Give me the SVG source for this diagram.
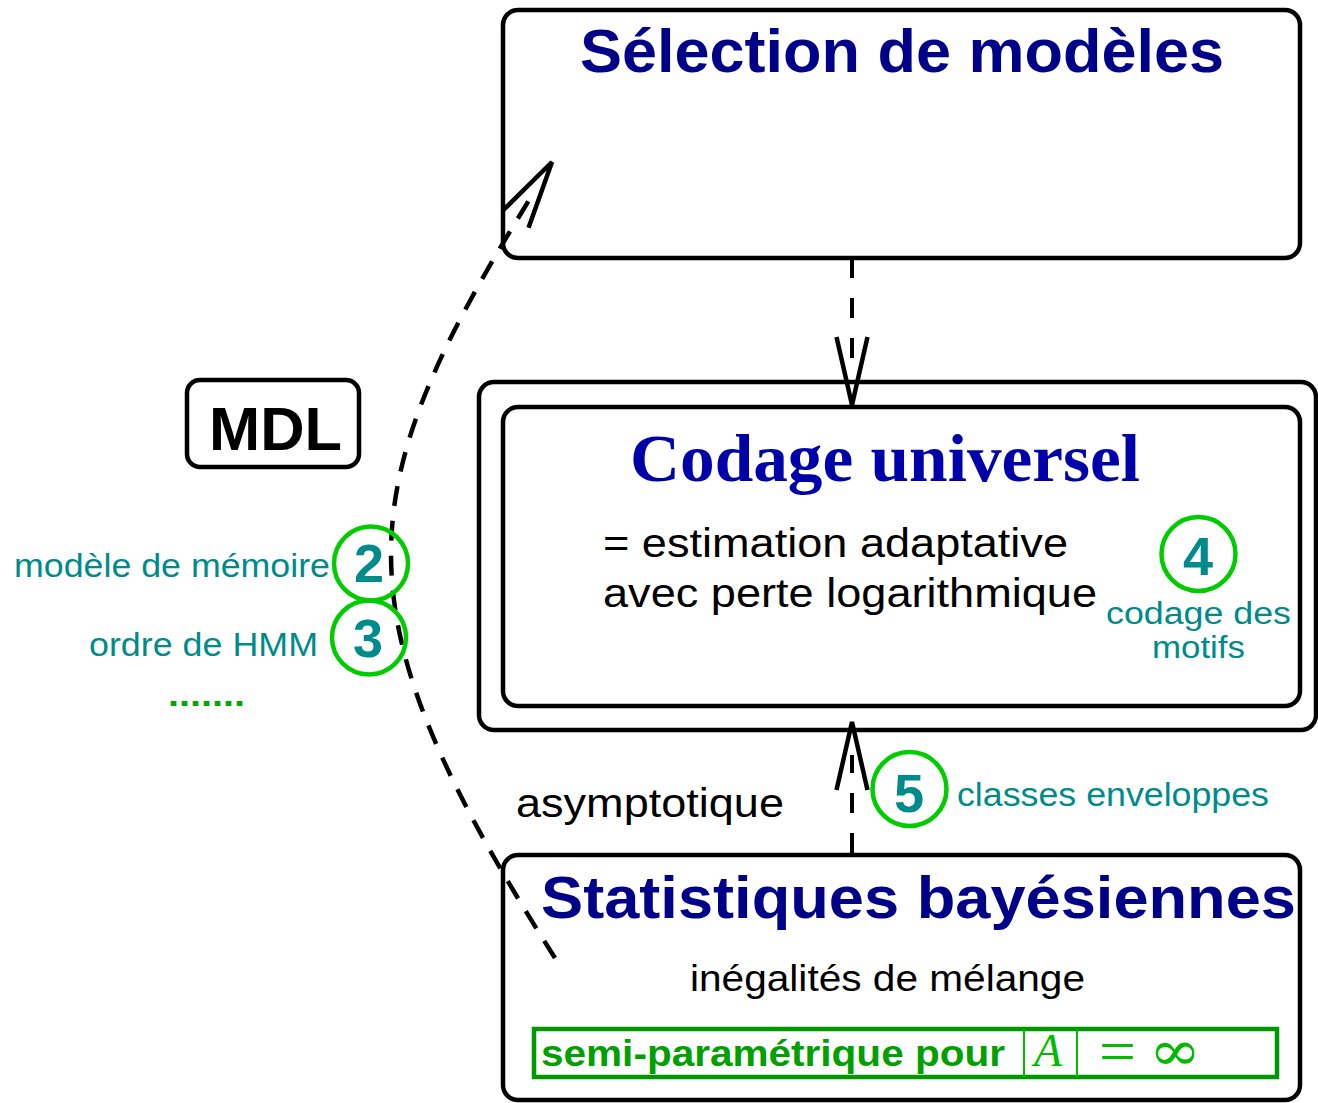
<svg xmlns="http://www.w3.org/2000/svg" xmlns:xlink="http://www.w3.org/1999/xlink" width="1318" height="1103" viewBox="0 0 1318 1103">
<style>
.box{fill:none;stroke:#000;stroke-width:4.5}
.conn{fill:none;stroke:#000;stroke-width:4;stroke-dasharray:20 20}
.head{fill:none;stroke:#000;stroke-width:4.5;stroke-linejoin:miter}
.ring{fill:none;stroke:#00cc00;stroke-width:4.5}
.num{font-family:"Liberation Sans",Arial,sans-serif;font-weight:bold;font-size:54px;fill:#008b8b;text-anchor:middle}
.lab{font-family:"Liberation Sans",Arial,sans-serif;font-size:34px;fill:#008b8b}
.txt{font-family:"Liberation Sans",Arial,sans-serif;font-size:40px;fill:#000}
.title{font-family:"Liberation Sans",Arial,sans-serif;font-weight:bold;font-size:62px;fill:#000088}
.math{font-family:"Liberation Serif","Times New Roman",serif;fill:#00bb00}
</style>
<defs>
<path id="vhead" class="head" d="M-15.5,-68 L0,0 L15.5,-68"/>
</defs>
<rect width="1318" height="1103" fill="#fff"/>

<g id="selection">
<rect class="box" x="503" y="10" width="797" height="248" rx="15"/>
<text class="title" x="580" y="72" textLength="644" lengthAdjust="spacingAndGlyphs">Sélection de modèles</text>
</g>

<g id="codage">
<rect class="box" x="479" y="382" width="837" height="348" rx="15"/>
<rect class="box" x="503" y="407" width="797" height="299" rx="15"/>
<text x="630" y="481" textLength="510" lengthAdjust="spacingAndGlyphs" style="font-family:'Liberation Serif','Times New Roman',serif;font-weight:bold;font-size:68px;fill:#0000aa">Codage universel</text>
<text class="txt" x="603" y="557" textLength="465" lengthAdjust="spacingAndGlyphs">= estimation adaptative</text>
<text class="txt" x="603" y="607" textLength="494" lengthAdjust="spacingAndGlyphs">avec perte logarithmique</text>
</g>

<g id="n4">
<circle class="ring" cx="1198.5" cy="554" r="37"/>
<text class="num" x="1198" y="575">4</text>
<text class="lab" x="1106" y="624" textLength="185" lengthAdjust="spacingAndGlyphs" style="font-size:31px">codage des</text>
<text class="lab" x="1152" y="658" textLength="93" lengthAdjust="spacingAndGlyphs" style="font-size:31px">motifs</text>
</g>

<g id="mdl">
<rect class="box" x="187" y="380" width="172" height="87" rx="13"/>
<text x="209" y="450" textLength="133" lengthAdjust="spacingAndGlyphs" style="font-family:'Liberation Sans',Arial,sans-serif;font-weight:bold;font-size:62px;fill:#000">MDL</text>
</g>

<g id="connectors">
<path class="conn" style="stroke-dasharray:20 15;stroke-width:4.5" d="M555,958 C340,620 345,500 520,215 L534,192"/>
<path class="conn" d="M852,258 L852,360"/>
<use xlink:href="#vhead" href="#vhead" transform="translate(852,405)"/>
<path class="conn" d="M852,853 L852,755"/>
<use xlink:href="#vhead" href="#vhead" transform="translate(852,722) rotate(180)"/>
<use xlink:href="#vhead" href="#vhead" transform="translate(552,162) rotate(212.5)"/>
</g>

<g id="n2">
<circle class="ring" cx="371" cy="563.5" r="37"/>
<text class="num" x="369" y="582">2</text>
<text class="lab" x="14" y="577" textLength="316" lengthAdjust="spacingAndGlyphs">modèle de mémoire</text>
</g>

<g id="n3">
<circle class="ring" cx="369" cy="637.5" r="37"/>
<text class="num" x="368" y="657">3</text>
<text class="lab" x="89" y="656" textLength="229" lengthAdjust="spacingAndGlyphs">ordre de HMM</text>
</g>

<g id="dots">
<text x="168" y="706" textLength="77" lengthAdjust="spacingAndGlyphs" style="font-family:'Liberation Sans',Arial,sans-serif;font-weight:bold;font-size:34px;fill:#00aa00">.......</text>
</g>

<g id="asym">
<text class="txt" x="516" y="817" textLength="268" lengthAdjust="spacingAndGlyphs">asymptotique</text>
</g>

<g id="n5">
<circle class="ring" cx="909.5" cy="789" r="37"/>
<text class="num" x="909" y="812">5</text>
<text class="lab" x="957" y="806" textLength="312" lengthAdjust="spacingAndGlyphs">classes enveloppes</text>
</g>

<g id="stats">
<rect class="box" x="503" y="855" width="797" height="245" rx="15"/>
<text class="title" x="541" y="918" textLength="755" lengthAdjust="spacingAndGlyphs" style="font-size:60px">Statistiques bayésiennes</text>
<text class="txt" x="690" y="991" textLength="395" lengthAdjust="spacingAndGlyphs" style="font-size:37px">inégalités de mélange</text>
<rect x="534" y="1029" width="743" height="48" fill="none" stroke="#009900" stroke-width="4.5"/>
<text x="541" y="1066" textLength="464" lengthAdjust="spacingAndGlyphs" style="font-family:'Liberation Sans',Arial,sans-serif;font-weight:bold;font-size:37px;fill:#00a000">semi-paramétrique pour</text>
<line x1="1024" y1="1029" x2="1024" y2="1077" stroke="#00bb00" stroke-width="2"/>
<line x1="1077" y1="1029" x2="1077" y2="1077" stroke="#00bb00" stroke-width="2"/>
<text class="math" x="1034" y="1066" style="font-style:italic;font-size:46px">A</text>
<text class="math" x="1099" y="1071" textLength="37" lengthAdjust="spacingAndGlyphs" style="font-size:60px">=</text>
<text class="math" x="1149" y="1070" textLength="52" lengthAdjust="spacingAndGlyphs" style="font-family:'DejaVu Serif','Liberation Serif',serif;font-size:56px">∞</text>
</g>
</svg>
